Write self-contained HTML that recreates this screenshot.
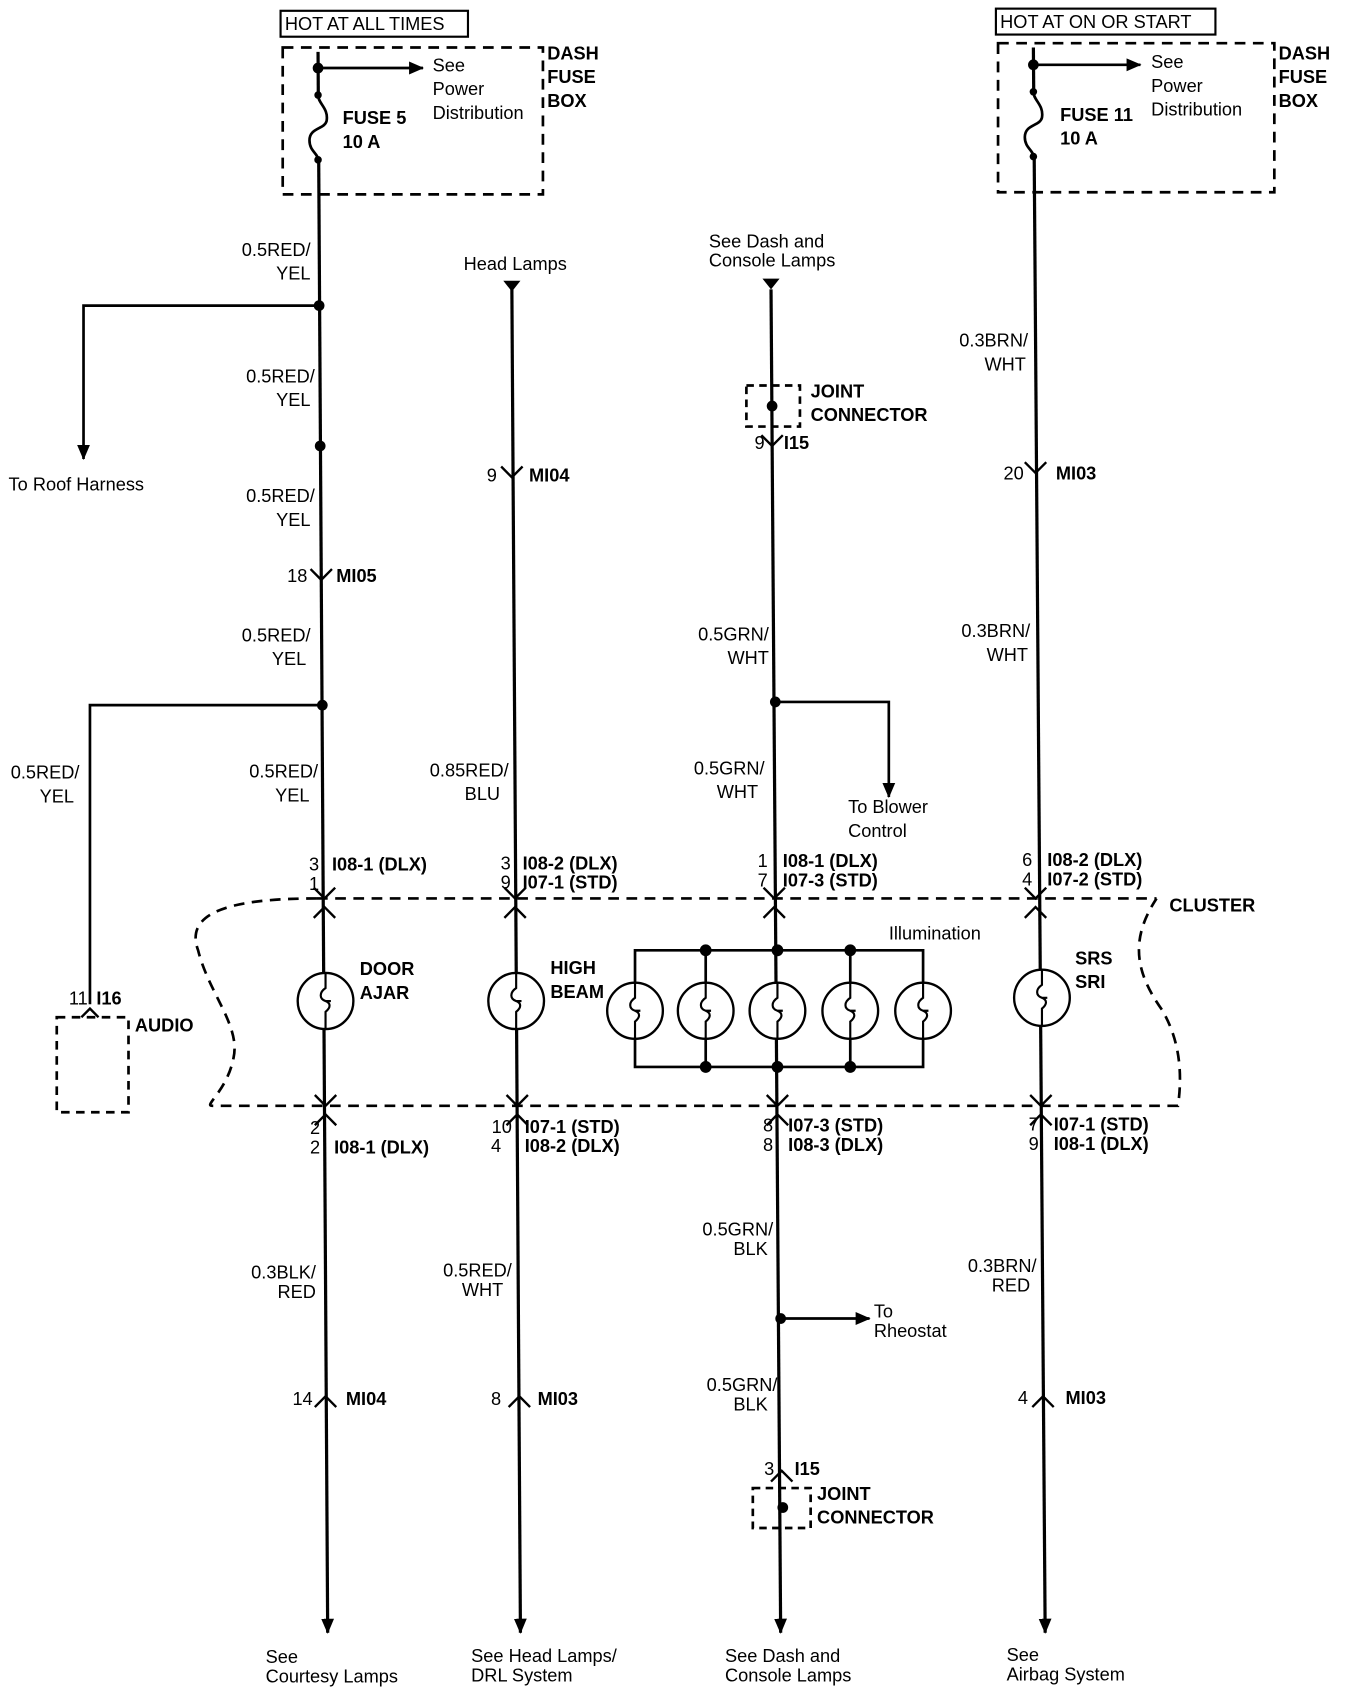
<!DOCTYPE html>
<html><head><meta charset="utf-8"><style>
html,body{margin:0;padding:0;background:#fff;}
svg{display:block;}
text{font-family:"Liberation Sans",Arial,sans-serif;font-size:17px;fill:#000;}
.b{font-weight:bold;}
.r{text-anchor:end;}
</style></head><body>
<svg width="1360" height="1690" viewBox="0 0 1270 1565" preserveAspectRatio="none" xmlns="http://www.w3.org/2000/svg">
<defs>
<marker id="ad" viewBox="0 0 14 14" markerWidth="14" markerHeight="14" refX="13" refY="7" orient="auto" markerUnits="userSpaceOnUse"><path d="M0,1 L14,7 L0,13 Z"/></marker>
</defs>
<g stroke="#000" fill="none" stroke-width="2.5">
<line x1="297" y1="48" x2="306" y2="1512" stroke-width="3" marker-end="url(#ad)"/>
<line x1="478" y1="268" x2="486" y2="1512" stroke-width="3" marker-end="url(#ad)"/>
<line x1="720" y1="268" x2="729" y2="1512" stroke-width="3" marker-end="url(#ad)"/>
<line x1="965" y1="44" x2="976" y2="1512" stroke-width="3" marker-end="url(#ad)"/>
</g>
<rect x="290" y="90" width="16" height="56" fill="#fff"/>
<rect x="958" y="88" width="16" height="56" fill="#fff"/>
<g stroke="#000" fill="none" stroke-width="2.5">
<path d="M297,88 C297,96 307,100 305,112 C303,120 289,118 289,130 C289,140 297,142 297,148"/>
<path d="M965,85 C965,93 975,97 973,109 C971,117 957,115 957,127 C957,137 965,139 965,145"/>
<rect x="262" y="10" width="175" height="24" stroke-width="2"/>
<rect x="930" y="8" width="205" height="24" stroke-width="2"/>
<rect x="264" y="44" width="243" height="136" stroke-dasharray="10,7"/>
<rect x="932" y="40" width="258" height="138" stroke-dasharray="10,7"/>
<line x1="297" y1="63" x2="395" y2="63" marker-end="url(#ad)"/>
<line x1="965" y1="60" x2="1065" y2="60" marker-end="url(#ad)"/>
<polyline points="298,283 78,283 78,425" marker-end="url(#ad)"/>
<polyline points="301,653 84,653 84,930"/>
<rect x="53" y="942" width="67" height="88" stroke-dasharray="8,6"/>
<polyline points="724,650 830,650 830,738" marker-end="url(#ad)"/>
<line x1="729" y1="1221" x2="812" y2="1221" marker-end="url(#ad)"/>
<rect x="697" y="357" width="50" height="38" stroke-dasharray="7,5"/>
<rect x="703" y="1378" width="54" height="37" stroke-dasharray="7,5"/>
<path d="M296,832 L1080,832" stroke-dasharray="10,7"/>
<path d="M296,832 C230,832 170,840 185,880 C195,920 225,950 218,980 C212,1010 190,1024 198,1024 L1100,1024 C1105,990 1100,960 1085,935 C1060,900 1055,870 1080,832" stroke-dasharray="10,7"/>
<polyline points="593,935 593,880 862,880 862,935"/>
<polyline points="593,935 593,988 862,988 862,935"/>
<line x1="659" y1="880" x2="659" y2="988"/>
<line x1="794" y1="880" x2="794" y2="988"/>
</g>
<g stroke="#000" stroke-width="2.2" fill="#fff">
<circle cx="304" cy="927" r="26"/><circle cx="482" cy="927" r="26"/>
<circle cx="593" cy="936" r="26"/><circle cx="659" cy="936" r="26"/><circle cx="726" cy="936" r="26"/>
<circle cx="794" cy="936" r="26"/><circle cx="862" cy="936" r="26"/><circle cx="973" cy="924" r="26"/>
</g>
<g stroke="#000" stroke-width="2" fill="none">
<path d="M304,901 v14 c-6,4 -6,10 0,12 c5,2 5,6 0,10 v16 M304,927 h5"/>
<path d="M482,901 v14 c-6,4 -6,10 0,12 c5,2 5,6 0,10 v16 M482,927 h5"/>
<path d="M593,910 v14 c-6,4 -6,10 0,12 c5,2 5,6 0,10 v16 M593,936 h5"/>
<path d="M659,910 v14 c-6,4 -6,10 0,12 c5,2 5,6 0,10 v16 M659,936 h5"/>
<path d="M726,910 v14 c-6,4 -6,10 0,12 c5,2 5,6 0,10 v16 M726,936 h5"/>
<path d="M794,910 v14 c-6,4 -6,10 0,12 c5,2 5,6 0,10 v16 M794,936 h5"/>
<path d="M862,910 v14 c-6,4 -6,10 0,12 c5,2 5,6 0,10 v16 M862,936 h5"/>
<path d="M973,898 v14 c-6,4 -6,10 0,12 c5,2 5,6 0,10 v16 M973,924 h5"/>
</g>
<g fill="#000">
<circle cx="297" cy="63" r="5"/><circle cx="297" cy="88" r="3.5"/><circle cx="297" cy="148" r="3.5"/>
<circle cx="965" cy="60" r="5"/><circle cx="965" cy="85" r="3.5"/><circle cx="965" cy="145" r="3.5"/>
<circle cx="298" cy="283" r="5"/><circle cx="299" cy="413" r="5"/><circle cx="301" cy="653" r="5"/>
<circle cx="724" cy="650" r="5"/><circle cx="729" cy="1221" r="5"/>
<circle cx="721" cy="376" r="5"/><circle cx="731" cy="1396" r="5"/>
<circle cx="659" cy="880" r="5.5"/><circle cx="726" cy="880" r="5.5"/><circle cx="794" cy="880" r="5.5"/>
<circle cx="659" cy="988" r="5.5"/><circle cx="726" cy="988" r="5.5"/><circle cx="794" cy="988" r="5.5"/>
<path d="M470,260 L486,260 L478,270 Z"/><path d="M712,258 L728,258 L720,268 Z"/>
</g>
<g stroke="#000" fill="none" stroke-width="2.2">
<path d="M290,527 l10,10 l10,-10"/><path d="M468,432 l10,10 l10,-10"/><path d="M711,403 l10,10 l10,-10"/><path d="M957,428 l10,10 l10,-10"/>
<path d="M76,942 l8,-8 l8,8"/>
<path d="M293,822 l10,10 l10,-10 M293,850 l10,-10 l10,10"/>
<path d="M471,822 l10,10 l10,-10 M471,850 l10,-10 l10,10"/>
<path d="M713,822 l10,10 l10,-10 M713,850 l10,-10 l10,10"/>
<path d="M957,822 l10,10 l10,-10 M957,850 l10,-10 l10,10"/>
<path d="M294,1014 l10,10 l10,-10 M294,1042 l10,-10 l10,10"/>
<path d="M473,1014 l10,10 l10,-10 M473,1042 l10,-10 l10,10"/>
<path d="M716,1014 l10,10 l10,-10 M716,1042 l10,-10 l10,10"/>
<path d="M962,1014 l10,10 l10,-10 M962,1042 l10,-10 l10,10"/>
<path d="M294,1303 l10,-10 l10,10"/><path d="M475,1303 l10,-10 l10,10"/><path d="M964,1303 l10,-10 l10,10"/>
<path d="M720,1372 l10,-10 l10,10"/>
</g>
<text x="266" y="28">HOT AT ALL TIMES</text>
<text x="934" y="26">HOT AT ON OR START</text>
<text class="b" x="511" y="55">DASH</text><text class="b" x="511" y="77">FUSE</text><text class="b" x="511" y="99">BOX</text>
<text class="b" x="1194" y="55">DASH</text><text class="b" x="1194" y="77">FUSE</text><text class="b" x="1194" y="99">BOX</text>
<text x="404" y="66">See</text><text x="404" y="88">Power</text><text x="404" y="110">Distribution</text>
<text x="1075" y="63">See</text><text x="1075" y="85">Power</text><text x="1075" y="107">Distribution</text>
<text class="b" x="320" y="115">FUSE 5</text><text class="b" x="320" y="137">10 A</text>
<text class="b" x="990" y="112">FUSE 11</text><text class="b" x="990" y="134">10 A</text>
<text class="r" x="290" y="237">0.5RED/</text><text class="r" x="290" y="259">YEL</text>
<text x="8" y="454">To Roof Harness</text>
<text class="r" x="294" y="354">0.5RED/</text><text class="r" x="290" y="376">YEL</text>
<text class="r" x="294" y="465">0.5RED/</text><text class="r" x="290" y="487">YEL</text>
<text class="r" x="287" y="539">18</text><text class="b" x="314" y="539">MI05</text>
<text class="r" x="290" y="594">0.5RED/</text><text class="r" x="286" y="616">YEL</text>
<text x="10" y="721">0.5RED/</text><text x="37" y="743">YEL</text>
<text class="r" x="297" y="720">0.5RED/</text><text class="r" x="289" y="742">YEL</text>
<text class="r" x="298" y="806">3</text><text class="b" x="310" y="806">I08-1 (DLX)</text><text class="r" x="298" y="824">1</text>
<text class="r" x="82" y="930">11</text><text class="b" x="90" y="930">I16</text>
<text class="b" x="126" y="955">AUDIO</text>
<text x="433" y="250">Head Lamps</text>
<text class="r" x="464" y="446">9</text><text class="b" x="494" y="446">MI04</text>
<text class="r" x="475" y="719">0.85RED/</text><text class="r" x="467" y="741">BLU</text>
<text class="r" x="477" y="805">3</text><text class="b" x="488" y="805">I08-2 (DLX)</text>
<text class="r" x="477" y="823">9</text><text class="b" x="488" y="823">I07-1 (STD)</text>
<text x="662" y="229">See Dash and</text><text x="662" y="247">Console Lamps</text>
<text class="b" x="757" y="368">JOINT</text><text class="b" x="757" y="390">CONNECTOR</text>
<text class="r" x="714" y="416">9</text><text class="b" x="732" y="416">I15</text>
<text class="r" x="718" y="593">0.5GRN/</text><text class="r" x="718" y="615">WHT</text>
<text class="r" x="714" y="717">0.5GRN/</text><text class="r" x="708" y="739">WHT</text>
<text x="792" y="753">To Blower</text><text x="792" y="775">Control</text>
<text class="r" x="717" y="803">1</text><text class="b" x="731" y="803">I08-1 (DLX)</text>
<text class="r" x="717" y="821">7</text><text class="b" x="731" y="821">I07-3 (STD)</text>
<text class="r" x="960" y="321">0.3BRN/</text><text class="r" x="958" y="343">WHT</text>
<text class="r" x="956" y="444">20</text><text class="b" x="986" y="444">MI03</text>
<text class="r" x="962" y="590">0.3BRN/</text><text class="r" x="960" y="612">WHT</text>
<text class="r" x="964" y="802">6</text><text class="b" x="978" y="802">I08-2 (DLX)</text>
<text class="r" x="964" y="820">4</text><text class="b" x="978" y="820">I07-2 (STD)</text>
<text class="b" x="1092" y="844">CLUSTER</text>
<text class="b" x="336" y="903">DOOR</text><text class="b" x="336" y="925">AJAR</text>
<text class="b" x="514" y="902">HIGH</text><text class="b" x="514" y="924">BEAM</text>
<text x="830" y="870">Illumination</text>
<text class="b" x="1004" y="893">SRS</text><text class="b" x="1004" y="915">SRI</text>
<text class="r" x="299" y="1050">2</text><text class="r" x="299" y="1068">2</text><text class="b" x="312" y="1068">I08-1 (DLX)</text>
<text class="r" x="478" y="1049">10</text><text class="b" x="490" y="1049">I07-1 (STD)</text>
<text class="r" x="468" y="1067">4</text><text class="b" x="490" y="1067">I08-2 (DLX)</text>
<text class="r" x="722" y="1048">8</text><text class="b" x="736" y="1048">I07-3 (STD)</text>
<text class="r" x="722" y="1066">8</text><text class="b" x="736" y="1066">I08-3 (DLX)</text>
<text class="r" x="970" y="1047">7</text><text class="b" x="984" y="1047">I07-1 (STD)</text>
<text class="r" x="970" y="1065">9</text><text class="b" x="984" y="1065">I08-1 (DLX)</text>
<text class="r" x="295" y="1184">0.3BLK/</text><text class="r" x="295" y="1202">RED</text>
<text class="r" x="478" y="1182">0.5RED/</text><text class="r" x="470" y="1200">WHT</text>
<text class="r" x="722" y="1144">0.5GRN/</text><text class="r" x="717" y="1162">BLK</text>
<text x="816" y="1220">To</text><text x="816" y="1238">Rheostat</text>
<text class="r" x="726" y="1288">0.5GRN/</text><text class="r" x="717" y="1306">BLK</text>
<text class="r" x="968" y="1178">0.3BRN/</text><text class="r" x="962" y="1196">RED</text>
<text class="r" x="292" y="1301">14</text><text class="b" x="323" y="1301">MI04</text>
<text class="r" x="468" y="1301">8</text><text class="b" x="502" y="1301">MI03</text>
<text class="r" x="960" y="1300">4</text><text class="b" x="995" y="1300">MI03</text>
<text class="r" x="723" y="1366">3</text><text class="b" x="742" y="1366">I15</text>
<text class="b" x="763" y="1389">JOINT</text><text class="b" x="763" y="1411">CONNECTOR</text>
<text x="248" y="1540">See</text><text x="248" y="1558">Courtesy Lamps</text>
<text x="440" y="1539">See Head Lamps/</text><text x="440" y="1557">DRL System</text>
<text x="677" y="1539">See Dash and</text><text x="677" y="1557">Console Lamps</text>
<text x="940" y="1538">See</text><text x="940" y="1556">Airbag System</text>
</svg>
</body></html>
